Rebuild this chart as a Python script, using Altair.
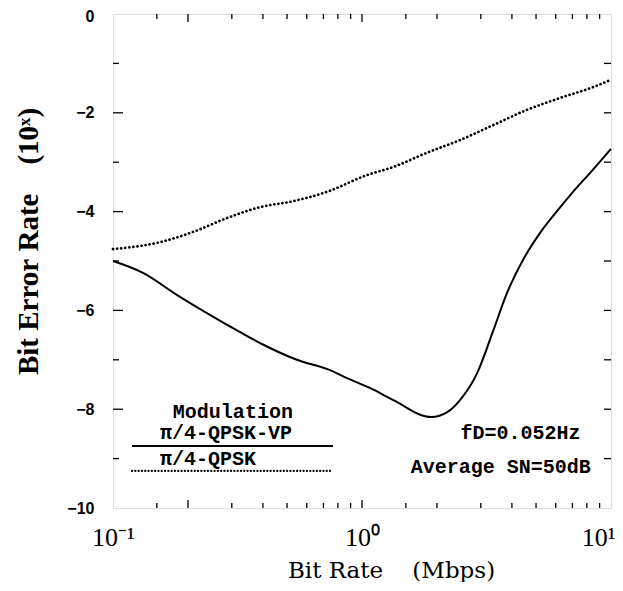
import altair as alt
import pandas as pd

# ---- data ----
vp_rate = [0.1, 0.132, 0.181, 0.245, 0.324, 0.400, 0.548, 0.744, 0.871, 1.076,
           1.33, 1.90, 2.20, 2.48, 2.90, 3.36, 3.82, 4.43, 5.19, 6.07,
           7.04, 8.23, 10.0]
vp_ber = [-5.0, -5.24, -5.69, -6.09, -6.44, -6.69, -7.0, -7.21, -7.37, -7.57,
          -7.81, -8.16, -8.06, -7.81, -7.27, -6.42, -5.65, -4.98, -4.43,
          -3.99, -3.60, -3.22, -2.73]

qpsk_rate = [0.1, 0.154, 0.210, 0.287, 0.389, 0.528, 0.723, 1.047, 1.33, 1.82,
             2.48, 3.36, 4.60, 6.24, 8.47, 10.0]
qpsk_ber = [-4.76, -4.62, -4.41, -4.13, -3.91, -3.79, -3.60, -3.26, -3.10, -2.81,
            -2.55, -2.25, -1.94, -1.70, -1.48, -1.33]

x_major = [0.1, 1, 10]
x_long_ticks = [0.2, 1]
x_short_ticks = [0.15, 0.3, 0.4, 0.5, 0.6, 0.7, 0.8, 0.9,
                 1.5, 2, 3, 4, 5, 6, 7, 8, 9]
y_major = [-10, -8, -6, -4, -2, 0]
y_minor = [-9, -7, -5, -3, -1]
y_all = [-9, -8, -7, -6, -5, -4, -3, -2, -1]

NB = "\u00a0"
W, H = 498, 494
xs = alt.Scale(type="log", domain=[0.1, 10], nice=False)
ys = alt.Scale(domain=[-10, 0], nice=False)

vp = pd.DataFrame({"rate": vp_rate, "ber": vp_ber})
qp = pd.DataFrame({"rate": qpsk_rate, "ber": qpsk_ber})

base_x = alt.X("rate:Q", scale=xs, axis=alt.Axis(
    values=x_major, ticks=False, domain=False, grid=False,
    labelExpr="datum.value < 0.5 ? '10\u207b\u00b9' : (datum.value < 5 ? '10\u2070' : '10\u00b9')",
    labelFont="Liberation Serif", labelFontSize=26, labelColor="black",
    labelPadding=16, labelFlush=False,
    labelAlign={"condition": {"test": "datum.value > 5", "value": "right"}, "value": "center"},
    labelOffset={"condition": {"test": "datum.value > 5", "value": 4}, "value": 0},
    title="Bit" + NB + "Rate" + NB * 4 + "(Mbps)", titleFont="DejaVu Serif",
    titleFontSize=23, titleFontWeight="normal", titleColor="black",
    titleX=278, titleY=69, titleBaseline="alphabetic", titleAlign="center"))
base_y = alt.Y("ber:Q", scale=ys, axis=alt.Axis(
    values=y_major, ticks=False, domain=False, grid=False,
    labelFont="Liberation Sans", labelFontSize=16, labelFontWeight="bold",
    labelColor="black", labelPadding=19, labelFlush=False,
    labelOffset={"condition": {"test": "datum.value == 0", "value": 2}, "value": 0},
    title="Bit" + NB + "Error" + NB + "Rate" + NB * 4 + "(10\u02e3)",
    titleFont="Liberation Serif", titleFontSize=29, titleFontWeight="bold",
    titleColor="black", titleAngle=270, titleX=-76, titleY=227,
    titleAlign="center", titleBaseline="alphabetic"))

solid = alt.Chart(vp).mark_line(color="black", strokeWidth=2,
                                interpolate="monotone").encode(x=base_x, y=base_y)
dotted = alt.Chart(qp).mark_line(color="black", strokeWidth=2.7, strokeCap="round",
                                 strokeDash=[0.1, 4.0], interpolate="monotone").encode(
    x=alt.X("rate:Q", scale=xs), y=alt.Y("ber:Q", scale=ys))

# ---- inward ticks ----
def xt(vals, top, length):
    df = pd.DataFrame({"v": vals})
    if top:
        return alt.Chart(df).mark_rule(color="black", strokeWidth=1.3).encode(
            x=alt.X("v:Q", scale=xs), y=alt.value(0), y2=alt.value(length))
    return alt.Chart(df).mark_rule(color="black", strokeWidth=1.3).encode(
        x=alt.X("v:Q", scale=xs), y=alt.value(H), y2=alt.value(H - length))

def yt(vals, left, length):
    df = pd.DataFrame({"v": vals})
    if left:
        return alt.Chart(df).mark_rule(color="black", strokeWidth=1.3).encode(
            y=alt.Y("v:Q", scale=ys), x=alt.value(0), x2=alt.value(length))
    return alt.Chart(df).mark_rule(color="black", strokeWidth=1.3).encode(
        y=alt.Y("v:Q", scale=ys), x=alt.value(W), x2=alt.value(W - length))

ticks = [xt(x_long_ticks, True, 8), xt(x_short_ticks, True, 5),
         xt(x_long_ticks, False, 8), xt(x_short_ticks, False, 5),
         yt(y_major[1:-1], True, 10), yt(y_minor, True, 6),
         yt(y_all, False, 7)]

# ---- legend and notes ----
leg_lines = pd.DataFrame({"x": [0.1192, 0.1192], "x2": [0.765, 0.765],
                          "y": [-8.745, -9.25], "s": ["VP", "Q"]})
leg_solid = alt.Chart(leg_lines[leg_lines.s == "VP"]).mark_rule(
    color="black", strokeWidth=2).encode(
    x=alt.X("x:Q", scale=xs), x2="x2:Q", y=alt.Y("y:Q", scale=ys))
leg_dot = alt.Chart(leg_lines[leg_lines.s == "Q"]).mark_rule(
    color="black", strokeWidth=2.2, strokeCap="round", strokeDash=[0.1, 3.2]).encode(
    x=alt.X("x:Q", scale=xs), x2="x2:Q", y=alt.Y("y:Q", scale=ys))

texts = pd.DataFrame({
    "x": [0.303, 0.1545, 0.1545, 7.55, 8.3],
    "y": [-8.06, -8.48, -9.0, -8.48, -9.17],
    "t": ["Modulation", "\u03c0/4-QPSK-VP", "\u03c0/4-QPSK", "fD=0.052Hz",
          "Average" + NB + "SN=50dB"],
    "a": ["center", "left", "left", "right", "right"]})

def txt(df, align):
    return alt.Chart(df).mark_text(font="Liberation Mono", fontSize=20,
                                   fontWeight="bold", align=align,
                                   baseline="middle", color="black").encode(
        x=alt.X("x:Q", scale=xs), y=alt.Y("y:Q", scale=ys), text="t:N")

text_layers = [txt(texts[texts.a == a], a) for a in ["center", "left", "right"]]

chart = alt.layer(solid, dotted, *ticks, leg_solid, leg_dot, *text_layers).properties(
    width=W, height=H,
    autosize=alt.AutoSizeParams(type="none"),
    padding={"left": 105, "top": 6, "right": 4, "bottom": 74},
).configure_view(stroke="black", strokeWidth=2).configure(background="white")

chart.save("out.html", embed_options={"renderer": "svg", "actions": False})
